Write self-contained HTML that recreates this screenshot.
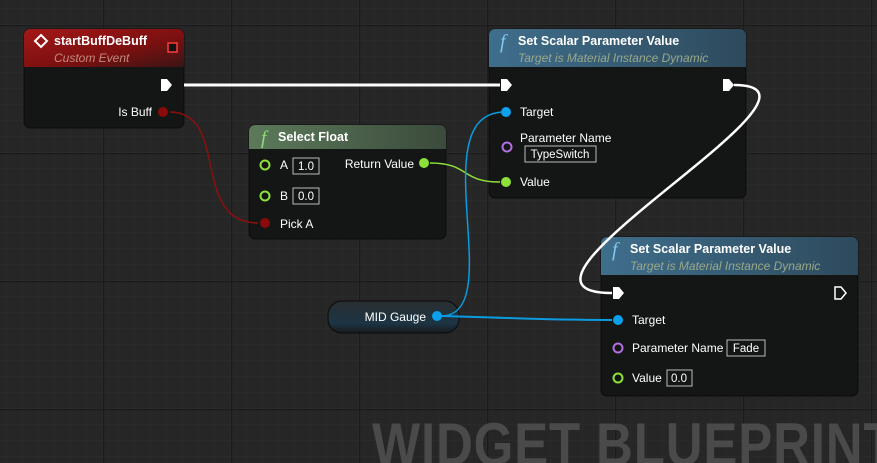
<!DOCTYPE html>
<html><head><meta charset="utf-8"><style>
html,body{margin:0;padding:0;background:#262626;}
svg{display:block;font-family:"Liberation Sans",sans-serif;}
</style></head><body>
<svg width="877" height="463" viewBox="0 0 877 463" xmlns="http://www.w3.org/2000/svg">
<defs>
<pattern id="minor" width="16" height="16" patternUnits="userSpaceOnUse" x="7" y="9">
<path d="M16 0V16M0 16H16" stroke="#2e2e2e" stroke-width="1" fill="none"/>
</pattern>
<pattern id="major" width="128" height="128" patternUnits="userSpaceOnUse" x="103" y="25">
<path d="M0.5 0V128M0 0.5H128" stroke="#1b1b1b" stroke-width="1.5" fill="none"/>
</pattern>
<linearGradient id="red" x1="0" y1="0" x2="1" y2="1"><stop offset="0" stop-color="#a41818"/><stop offset="0.6" stop-color="#7a1010"/><stop offset="1" stop-color="#3a1414"/></linearGradient>
<linearGradient id="green" x1="0" y1="0" x2="1" y2="0"><stop offset="0" stop-color="#5c7a5a"/><stop offset="1" stop-color="#3b4a3c"/></linearGradient>
<linearGradient id="blue" x1="0" y1="0" x2="1" y2="0"><stop offset="0" stop-color="#3f6e8c"/><stop offset="1" stop-color="#2e4a5c"/></linearGradient>
<linearGradient id="pill" x1="0" y1="0" x2="0" y2="1"><stop offset="0" stop-color="#2a2e30"/><stop offset="0.7" stop-color="#1c3444"/><stop offset="1" stop-color="#181a1b"/></linearGradient>
</defs>
<rect width="877" height="463" fill="#262626"/>
<rect width="877" height="463" fill="url(#minor)"/>
<rect width="877" height="463" fill="url(#major)"/>

<text x="372" y="465" font-size="60" font-weight="bold" fill="#4a4a4a" transform="translate(372 0) scale(0.85 1) translate(-372 0)" letter-spacing="1">WIDGET BLUEPRINT</text>

<!-- Event node -->
<rect x="24" y="29" width="160" height="99" rx="6" fill="#141615" stroke="#000" stroke-opacity="0.6"/>
<path d="M30 29h148a6 6 0 0 1 6 6v32H24V35a6 6 0 0 1 6-6z" fill="url(#red)"/>
<path d="M41 35l6 6-6 6-6-6z" fill="none" stroke="#fff" stroke-width="2"/>
<text x="54" y="45" font-size="12.5" font-weight="bold" fill="#fff">startBuffDeBuff</text>
<text x="54" y="62" font-size="12" font-style="italic" fill="#c08a80">Custom Event</text>
<rect x="168" y="43" width="9" height="9" fill="#111" stroke="#ff3b3b" stroke-width="1.5"/>
<text x="152" y="116" font-size="12" fill="#fff" text-anchor="end">Is Buff</text>

<!-- Select Float -->
<rect x="249" y="125" width="197" height="114" rx="6" fill="#141615" stroke="#000" stroke-opacity="0.6"/>
<path d="M255 125h185a6 6 0 0 1 6 6v18H249v-18a6 6 0 0 1 6-6z" fill="url(#green)"/>
<text x="261" y="144" font-size="19" font-style="italic" font-family="Liberation Serif,serif" fill="#8fe07a">f</text>
<text x="278" y="141" font-size="12.5" font-weight="bold" fill="#fff">Select Float</text>
<circle cx="265" cy="165" r="4.5" fill="none" stroke="#8ee03a" stroke-width="2"/>
<text x="280" y="169" font-size="12" fill="#fff">A</text>
<rect x="293" y="158" width="26" height="16" fill="none" stroke="#bbb"/>
<text x="306" y="170" font-size="11.5" fill="#fff" text-anchor="middle">1.0</text>
<circle cx="265" cy="196" r="4.5" fill="none" stroke="#8ee03a" stroke-width="2"/>
<text x="280" y="200" font-size="12" fill="#fff">B</text>
<rect x="293" y="188" width="26" height="16" fill="none" stroke="#bbb"/>
<text x="306" y="200" font-size="11.5" fill="#fff" text-anchor="middle">0.0</text>
<text x="280" y="228" font-size="12" fill="#fff">Pick A</text>
<text x="414" y="168" font-size="12" fill="#fff" text-anchor="end">Return Value</text>

<!-- SSPV 1 -->
<rect x="489" y="29" width="257" height="169" rx="6" fill="#141615" stroke="#000" stroke-opacity="0.6"/>
<path d="M495 29h245a6 6 0 0 1 6 6v32H489V35a6 6 0 0 1 6-6z" fill="url(#blue)"/>
<text x="500" y="48" font-size="20" font-style="italic" font-family="Liberation Serif,serif" fill="#7ec8f0">f</text>
<text x="518" y="45" font-size="12.5" font-weight="bold" fill="#fff">Set Scalar Parameter Value</text>
<text x="518" y="62" font-size="12" font-style="italic" fill="#9aa88a">Target is Material Instance Dynamic</text>
<path d="M501 79h6l5 6-5 6h-6z" fill="#fff"/>
<path d="M723 79h6l5 6-5 6h-6z" fill="#fff"/>
<text x="520" y="116" font-size="12" fill="#fff">Target</text>
<circle cx="507" cy="147" r="4.5" fill="none" stroke="#b070e0" stroke-width="2"/>
<text x="520" y="142" font-size="12" fill="#fff">Parameter Name</text>
<rect x="525" y="146" width="71" height="16" fill="none" stroke="#bbb"/>
<text x="560" y="158" font-size="11.5" fill="#fff" text-anchor="middle">TypeSwitch</text>
<text x="520" y="186" font-size="12" fill="#fff">Value</text>

<!-- SSPV 2 -->
<rect x="601" y="237" width="257" height="159" rx="6" fill="#141615" stroke="#000" stroke-opacity="0.6"/>
<path d="M607 237h245a6 6 0 0 1 6 6v32H601v-32a6 6 0 0 1 6-6z" fill="url(#blue)"/>
<text x="612" y="256" font-size="20" font-style="italic" font-family="Liberation Serif,serif" fill="#7ec8f0">f</text>
<text x="630" y="253" font-size="12.5" font-weight="bold" fill="#fff">Set Scalar Parameter Value</text>
<text x="630" y="270" font-size="12" font-style="italic" fill="#9aa88a">Target is Material Instance Dynamic</text>
<path d="M613 287h6l5 6-5 6h-6z" fill="#fff"/>
<path d="M835 287h6l5 6-5 6h-6z" fill="none" stroke="#fff" stroke-width="1.5"/>
<text x="632" y="324" font-size="12" fill="#fff">Target</text>
<circle cx="618" cy="348" r="4.5" fill="none" stroke="#b070e0" stroke-width="2"/>
<text x="632" y="352" font-size="12" fill="#fff">Parameter Name</text>
<rect x="727" y="340" width="38" height="16" fill="none" stroke="#bbb"/>
<text x="746" y="352" font-size="11.5" fill="#fff" text-anchor="middle">Fade</text>
<circle cx="618" cy="378" r="4.5" fill="none" stroke="#8ee03a" stroke-width="2"/>
<text x="632" y="382" font-size="12" fill="#fff">Value</text>
<rect x="667" y="370" width="25" height="16" fill="none" stroke="#bbb"/>
<text x="679" y="382" font-size="11.5" fill="#fff" text-anchor="middle">0.0</text>

<!-- MID Gauge -->
<rect x="328" y="301" width="131" height="32" rx="14" fill="url(#pill)" stroke="#0a0a0a"/>
<text x="426" y="321" font-size="12" fill="#fff" text-anchor="end">MID Gauge</text>

<!-- wires -->
<path d="M184 85H500" stroke="#fff" stroke-width="3" fill="none"/>
<path d="M734 85C860 85 470 293 612 293" stroke="#fff" stroke-width="2.5" fill="none"/>
<path d="M170 112C230 112 190 223 258 223" stroke="#8a1010" stroke-width="1.5" fill="none"/>
<path d="M430 163C470 163 460 182 500 182" stroke="#8ee03a" stroke-width="1.5" fill="none"/>
<path d="M441 316C510 316 420 112 505 112" stroke="#0a9be0" stroke-width="1.5" fill="none"/>
<path d="M441 316C520 318 540 320 612 320" stroke="#0a9be0" stroke-width="2" fill="none"/>

<!-- pins -->
<path d="M161 85m0-6h6l5 6-5 6h-6z" fill="#fff"/>
<circle cx="163" cy="112" r="5" fill="#8a0a0a"/>
<circle cx="265" cy="223" r="5" fill="#8a0a0a"/>
<circle cx="424" cy="163" r="5" fill="#8ee03a"/>
<circle cx="506" cy="112" r="5" fill="#0aa0ec"/>
<circle cx="506" cy="182" r="5" fill="#8ee03a"/>
<circle cx="437" cy="316" r="5" fill="#0aa0ec"/>
<circle cx="618" cy="320" r="5" fill="#0aa0ec"/>
</svg>
</body></html>
